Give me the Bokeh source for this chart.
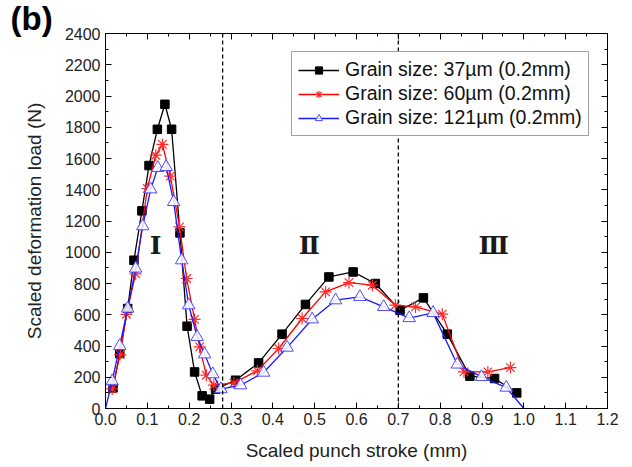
from bokeh.plotting import figure
from bokeh.models import (Span, Legend, LegendItem, LinearAxis, FixedTicker,
                          PrintfTickFormatter, CustomJSTickFormatter)
from bokeh.embed import file_html
from bokeh.resources import INLINE
from bokeh.core.properties import value

# ---------------- data ----------------
x_ticks = [0.0, 0.1, 0.2, 0.3, 0.4, 0.5, 0.6, 0.7, 0.8, 0.9, 1.0, 1.1, 1.2]
x_minor = [0.05, 0.15, 0.25, 0.35, 0.45, 0.55, 0.65, 0.75, 0.85, 0.95, 1.05, 1.15]
y_ticks = [0, 200, 400, 600, 800, 1000, 1200, 1400, 1600, 1800, 2000, 2200, 2400]
y_minor = [100, 300, 500, 700, 900, 1100, 1300, 1500, 1700, 1900, 2100, 2300]

g37_x = [0.018, 0.034, 0.053, 0.068, 0.087, 0.104, 0.124, 0.142, 0.158, 0.178, 0.195,
         0.213, 0.231, 0.249, 0.263, 0.311, 0.366, 0.422, 0.478, 0.534, 0.592, 0.645,
         0.704, 0.760, 0.817, 0.871, 0.930, 0.983]
g37_y = [132, 352, 640, 949, 1265, 1555, 1787, 1947, 1787, 1124, 527,
         234, 81, 60, 124, 181, 292, 476, 666, 842, 874, 800,
         629, 708, 476, 207, 192, 100]

g60_x = [0.016, 0.035, 0.050, 0.072, 0.100, 0.120, 0.136, 0.155, 0.177, 0.194, 0.213,
         0.225, 0.241, 0.259, 0.307, 0.363, 0.414, 0.470, 0.526, 0.582, 0.638, 0.693,
         0.741, 0.805, 0.857, 0.914, 0.968]
g60_y = [125, 345, 603, 862, 1408, 1621, 1690, 1487, 1162, 832, 570,
         394, 213, 149, 164, 241, 384, 576, 746, 806, 789, 661,
         650, 604, 234, 234, 262]

g121_x = [0.0, 0.016, 0.034, 0.053, 0.072, 0.089, 0.108, 0.125, 0.145, 0.163, 0.182,
          0.199, 0.219, 0.237, 0.2565, 0.276, 0.323, 0.378, 0.434, 0.494, 0.550, 0.608,
          0.665, 0.726, 0.783, 0.841, 0.899, 0.958, 1.0]
g121_y = [0, 175, 401, 640, 896, 1167, 1403, 1540, 1546, 1322, 949,
          661, 458, 347, 220, 124, 149, 230, 390, 571, 693, 714,
          650, 579, 612, 282, 202, 134, 0]

series_labels = ["Grain size: 37\u00b5m (0.2mm)", "Grain size: 60\u00b5m (0.2mm)",
                 "Grain size: 121\u00b5m (0.2mm)"]

stage_bounds = [0.28, 0.70]
stage_x = [0.12, 0.487, 0.928]
stage_y = [1045, 1045, 1045]
stage_text = ["\u2160", "\u2161", "\u2162"]

panel_tag = "(b)"

FONT = "Liberation Sans"

# ---------------- figure ----------------
p = figure(width=632, height=467, output_backend="svg", toolbar_location=None,
           x_range=(0, 1.2), y_range=(0, 2400),
           min_border_left=105, min_border_right=25, min_border_top=33, min_border_bottom=59,
           x_axis_label="Scaled punch stroke (mm)", y_axis_label="Scaled deformation load (N)")
p.grid.visible = False
p.outline_line_color = "black"
p.outline_line_width = 1
p.background_fill_color = "white"
p.border_fill_color = "white"

# panel tag as a title in the top-left corner
p.title.text = panel_tag
p.title.align = "left"
p.title.offset = -95
p.title.standoff = -6
p.title.text_font = FONT
p.title.text_font_style = "bold"
p.title.text_font_size = "33px"
p.title.text_color = "black"

p.xaxis.ticker = FixedTicker(ticks=x_ticks, minor_ticks=x_minor)
p.yaxis.ticker = FixedTicker(ticks=y_ticks, minor_ticks=y_minor)
p.xaxis.formatter = PrintfTickFormatter(format="%.1f")

for ax in [p.xaxis[0], p.yaxis[0]]:
    ax.major_tick_in = 6
    ax.major_tick_out = 0
    ax.minor_tick_in = 3
    ax.minor_tick_out = 0
    ax.axis_line_color = "black"
    ax.major_tick_line_color = "black"
    ax.minor_tick_line_color = "black"
    ax.major_label_text_font = FONT
    ax.major_label_text_font_size = "16px"
    ax.major_label_text_color = "#222222"
    ax.axis_label_text_font = FONT
    ax.axis_label_text_font_size = "19px"
    ax.axis_label_text_font_style = "normal"
    ax.axis_label_text_color = "#222222"

p.xaxis.major_label_standoff = 4
p.xaxis.axis_label_standoff = 12
p.yaxis.major_label_standoff = 5
p.yaxis.axis_label_standoff = 17

blank = CustomJSTickFormatter(code="return ''")
top_ax = LinearAxis(ticker=FixedTicker(ticks=x_ticks, minor_ticks=x_minor),
                    formatter=blank, major_tick_in=6, major_tick_out=0,
                    minor_tick_in=3, minor_tick_out=0, major_label_standoff=0,
                    major_label_text_font_size="1px")
right_ax = LinearAxis(ticker=FixedTicker(ticks=y_ticks, minor_ticks=y_minor),
                      formatter=blank, major_tick_in=6, major_tick_out=0,
                      minor_tick_in=3, minor_tick_out=0, major_label_standoff=0,
                      major_label_text_font_size="1px")
p.add_layout(top_ax, "above")
p.add_layout(right_ax, "right")

# stage boundaries
for b in stage_bounds:
    p.add_layout(Span(location=b, dimension="height", line_color="black",
                      line_dash="4 3", line_width=1.3))

# series
l37 = p.line(g37_x, g37_y, line_color="black", line_width=1.3)
s37 = p.scatter(g37_x, g37_y, marker="square", size=8.5, fill_color="black",
                line_color="black")

l60 = p.line(g60_x, g60_y, line_color="#ff0000", line_width=1.3)
s60 = p.scatter(g60_x, g60_y, marker="asterisk", size=12, line_color="#ff2a2a",
                line_width=1.2)

l121 = p.line(g121_x, g121_y, line_color="#1a1aff", line_width=1.3)
s121 = p.scatter(g121_x[1:-1], g121_y[1:-1], marker="triangle", size=12.5,
                 fill_color="white", fill_alpha=0.85, line_color="#4d4dff", line_width=1)

# stage numerals
p.text(stage_x, stage_y, text=stage_text, text_font=value("DejaVu Serif"),
       text_font_style="bold", text_font_size="25px", text_align="center",
       text_baseline="middle", text_color="#1a1a1a")

legend = Legend(items=[
    LegendItem(label=series_labels[0], renderers=[l37, s37]),
    LegendItem(label=series_labels[1], renderers=[l60, s60]),
    LegendItem(label=series_labels[2], renderers=[l121, s121]),
], location=(186, 272))
legend.label_text_font = FONT
legend.label_text_font_size = "19.5px"
legend.label_text_color = "#111111"
legend.glyph_width = 41
legend.glyph_height = 18
legend.label_standoff = 6
legend.spacing = 1
legend.padding = 6
legend.margin = 0
legend.border_line_color = "#444444"
legend.border_line_width = 1
legend.background_fill_color = "white"
legend.background_fill_alpha = 1
p.add_layout(legend)

open("out.html", "w").write(file_html(p, INLINE))
